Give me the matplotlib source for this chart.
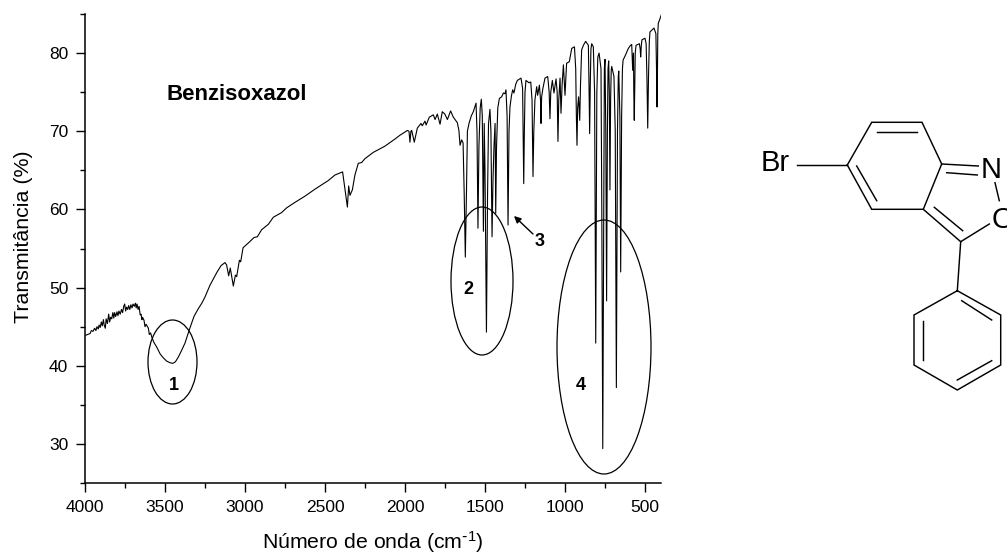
import matplotlib
matplotlib.use("Agg")
import matplotlib.pyplot as plt
from matplotlib.patches import Ellipse

plt.rcParams['font.family'] = ['Liberation Sans', 'DejaVu Sans']
plt.rcParams['mathtext.default'] = 'regular'

# Spectrum (wavenumber cm-1, transmittance %)
wn_oh = [3994,3985,3969,3960,3950,3940,3932,3925,3917,3912,3905,3898,3892,3885,3880,3873,3868,3860,3852,3846,3840,3833,3826,3820,3815,3808,3800,3794,3788,3780,3772,3765,3758,3752,3746,3740,3733,3727,3720,3713,3706,3700,3692,3685,3680,3675,3668,3662,3655,3650,3644,3640,3631,3625,3618,3604,3598,3590,3583,3570,3552,3530,3510,3490,3470,3452,3435,3417,3400,3375,3348,3319,3292,3270,3250,3219,3195,3177,3150]
t_oh  = [43.9,44,44.1,44.5,44.4,44.8,44.5,45,44.7,45.2,44.9,45.6,45.1,45.9,45.2,44.8,46,45.4,46.6,45.6,46.2,46,46.8,46.1,46.8,46.3,46.9,46.4,47,46.6,47.2,46.8,47.6,47.9,47,47.5,47.2,47.7,47.2,47.8,47.4,47.9,47.6,48.0,47.4,47.9,47.2,47.6,46.5,46.6,45.9,46.2,45.8,45,45.3,44.8,44,44.2,43.7,43,42.4,41.5,41,40.6,40.4,40.3,40.5,41.1,41.8,42.9,44.6,46.3,47.3,48,48.8,50.3,51.2,51.9,52.8]
wn_ch = [3125,3115,3102,3092,3073,3060,3052,3035,3027,3012,2969,2944,2923,2896,2854,2823,2771,2740,2688,2625,2562,2479,2438,2390,2375,2360,2352,2344,2329,2313,2292,2271,2250,2198,2125,2063,2031,1985,1975,1969,1963,1958,1942,1923,1900,1892,1875,1868,1848,1823,1812,1798,1781]
t_ch  = [53.2,52.9,51.5,52.5,50.2,51.6,51.4,53.5,53.3,55.1,55.9,56.4,56.5,57.4,58.1,59.0,59.6,60.2,60.9,61.7,62.6,63.7,64.4,64.8,62.5,60.3,63.0,61.8,62.5,64.4,65.9,66.0,66.5,67.3,68.1,69.0,69.5,70.1,70.0,68.6,70.0,70.1,68.6,70.4,71.0,70.7,71.3,70.8,71.8,72.1,71.5,72.2,70.9]
wn_mid = [1767,1751,1735,1715,1698,1673,1663,1656,1646,1637,1630,1623,1616,1610,1600,1585,1573,1556,1550,1544,1538,1530,1523,1517,1510,1507,1505,1500,1491,1484,1478,1469,1463,1456,1450,1444,1437,1433,1428,1420,1410,1396,1385,1375,1369,1362,1356,1350,1344,1335,1327,1319,1308,1298,1275,1265,1262,1258,1254,1250,1244,1225,1214,1206,1200,1195,1188,1177,1171,1160,1153,1150,1146,1138,1125,1108,1099,1094,1089,1079,1069,1056,1049,1044,1039,1031,1025,1018,1010,1000,990,973,958,941,933,929,925,921,915,908,903,896,885,871,854,850,846,842,838,833,823]
t_mid  = [72.5,72.2,71.5,72.6,71.8,71.1,70.1,68.2,68.9,68.5,62,53.9,62,70,71,72,72.5,73.6,70,57.6,68,73,74.1,72,57.2,66,71,65,44.3,62,71,72.8,70,56.5,63.8,68,71,59.5,68,73,74.2,74.4,74.9,74.8,75.3,72,58,70,73.1,74.5,75.3,74.9,76,76.5,76.8,75.5,70,63.3,70,75,76.5,76.2,76.3,74,64.2,70,74,75.7,74.6,75.9,74,71,74.4,75.5,76.8,77,75,71.6,75,76.5,74.9,76.7,75,68.7,74,76.8,72.3,76,78.5,74.6,78.7,78.9,80.6,80.8,78,72,68.2,73,74.4,71.4,76,80.4,81,81.5,81,76,69.7,76,80.5,81.2,80.8]
wn_fp = [815,808,801,795,787,775,770,764,758,754,750,745,740,735,731,727,723,719,715,711,708,694,686,679,672,667,664,657,652,646,641,637,623,604,590,583,577,572,570,567,564,561,556,535,530,527,523,519,500,493,488,483,478,473,469,444,432,428,425,422,420,417,408,398]
t_fp  = [75,42.9,75,79.5,80,78,60,29.4,60,78,79.2,70,48.3,70,78,79,75,62.5,74,77.8,78.3,77,70,37.2,70,77,77.7,72,52,72,78,79.1,79.7,80.6,81,81.1,77.8,80,75,71.4,76,80,81,81.2,80.5,79.5,81,81.7,81.9,81.2,77,70.4,77,81.5,82.7,83.2,82.5,78,73.1,78,82.5,83.8,84.3,84.9]

wavenumber = wn_oh + wn_ch + wn_mid + wn_fp
transmittance = t_oh + t_ch + t_mid + t_fp

x_major = [4000, 3500, 3000, 2500, 2000, 1500, 1000, 500]
x_minor = [3750, 3250, 2750, 2250, 1750, 1250, 750]
y_major = [30, 40, 50, 60, 70, 80]
y_minor = [25, 35, 45, 55, 65, 75, 85]

W, H = 1007, 554
fig = plt.figure(figsize=(W / 100, H / 100), dpi=100)
ax = fig.add_axes([85 / W, (H - 483) / H, 576 / W, 469 / H])
ax.plot(wavenumber, transmittance, color='black', lw=0.8, solid_joinstyle='round')
ax.set_xlim(4000, 400)
ax.set_ylim(25, 85)
for s in ('top', 'right'):
    ax.spines[s].set_visible(False)
for s in ('left', 'bottom'):
    ax.spines[s].set_linewidth(1.1)
ax.set_xticks(x_major)
ax.set_xticks(x_minor, minor=True)
ax.set_yticks(y_major)
ax.set_yticks(y_minor, minor=True)
ax.tick_params(which='major', length=6.5, width=1.0, labelsize=12.5, pad=5.5)
ax.tick_params(which='minor', length=3.6, width=1.0)

# Overlay in picture pixels for annotations and the structure drawing
ov = fig.add_axes([0, 0, 1, 1])
ov.set_xlim(0, W)
ov.set_ylim(H, 0)
ov.axis('off')
ov.patch.set_alpha(0)

for cx, cy, w, h in [(172.5, 362, 49, 84), (482, 281, 62, 148), (604, 347, 94, 254)]:
    ov.add_patch(Ellipse((cx, cy), w, h, fill=False, ec='black', lw=0.9))

for s, x, y in [('1', 174, 385), ('2', 468, 290), ('3', 540, 242), ('4', 581, 386)]:
    ov.text(x, y, s, fontsize=13, fontweight='bold', ha='center', va='center')
ov.text(167, 94.5, 'Benzisoxazol', fontsize=16, fontweight='bold', ha='left', va='center')
ov.annotate('', xy=(514, 216), xytext=(533, 234),
            arrowprops=dict(arrowstyle='-|>', color='black', lw=1.0, mutation_scale=10,
                            shrinkA=0, shrinkB=0))
ov.text(372.5, 548.5, r'Número de onda (cm$^{\text{-}1}$)', fontsize=15.3, ha='center', va='baseline')
ov.text(29.5, 236.5, 'Transmitância (%)', fontsize=15.4, rotation=90, ha='center', va='baseline',
        rotation_mode='anchor')

bonds = [
    [(847.3,165),(871.7,122.3),(922,122.3),(941.7,164),(923.3,209.3),(871.7,209.3),(847.3,165)],
    [(877.3,131.7),(916.7,131.7)],
    [(856.7,166),(876.7,200.7)],
    [(796.7,165.3),(847.3,165.3)],
    [(941.7,164),(978.3,166)],
    [(946.7,172.7),(977.3,175)],
    [(995,182.7),(999.3,200.7)],
    [(989.3,224),(960.7,241.7)],
    [(923.3,209.3),(960.7,241.7)],
    [(934.3,207.3),(962.7,230.7)],
    [(960.7,241.7),(957.3,290.7)],
    [(957.3,290.7),(1000.7,315),(1000.7,365),(957.3,390),(914,365),(914,315),(957.3,290.7)],
    [(961.7,300.7),(991.7,320)],
    [(923.3,320.7),(923.3,360)],
    [(957.3,380),(991.7,360.7)],
]
for b in bonds:
    ov.plot([p[0] for p in b], [p[1] for p in b], color='black', lw=1.05, solid_joinstyle='miter')
ov.text(760.5, 163, 'Br', fontsize=21, ha='left', va='center')
ov.text(990.7, 170.5, 'N', fontsize=21, ha='center', va='center')
ov.text(1003, 219.5, 'O', fontsize=21, ha='center', va='center', clip_on=False)

fig.savefig('out.png', dpi=100)
